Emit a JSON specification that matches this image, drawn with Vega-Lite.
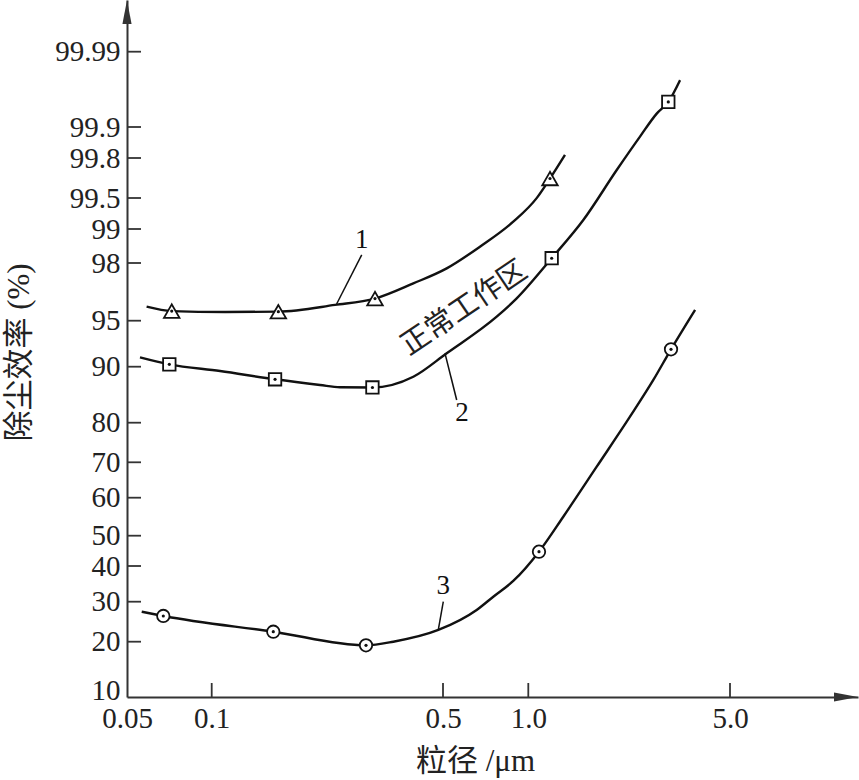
{
  "$schema": "https://vega.github.io/schema/vega-lite/v6.json",
  "width": 731,
  "height": 697,
  "autosize": {"type": "none"},
  "padding": {"left": 127, "top": 0, "right": 1, "bottom": 83},
  "background": "white",
  "config": {"view": {"stroke": null}, "font": "Liberation Serif"},
  "datasets": {
    "curves": [
      {"series": "1", "d": 0.0587, "eff": 95.73},
      {"series": "1", "d": 0.0721, "eff": 95.5},
      {"series": "1", "d": 0.1097, "eff": 95.45},
      {"series": "1", "d": 0.159, "eff": 95.47},
      {"series": "1", "d": 0.2358, "eff": 95.82},
      {"series": "1", "d": 0.3115, "eff": 96.15},
      {"series": "1", "d": 0.4067, "eff": 96.94},
      {"series": "1", "d": 0.5152, "eff": 97.72},
      {"series": "1", "d": 0.6753, "eff": 98.48},
      {"series": "1", "d": 0.885, "eff": 99.118},
      {"series": "1", "d": 1.069, "eff": 99.498},
      {"series": "1", "d": 1.189, "eff": 99.646},
      {"series": "1", "d": 1.34, "eff": 99.81},
      {"series": "2", "d": 0.0556, "eff": 91.02},
      {"series": "2", "d": 0.0707, "eff": 90.26},
      {"series": "2", "d": 0.106, "eff": 89.23},
      {"series": "2", "d": 0.1554, "eff": 87.75},
      {"series": "2", "d": 0.2125, "eff": 86.73},
      {"series": "2", "d": 0.2441, "eff": 86.32},
      {"series": "2", "d": 0.306, "eff": 86.29},
      {"series": "2", "d": 0.4067, "eff": 88.21},
      {"series": "2", "d": 0.5152, "eff": 91.46},
      {"series": "2", "d": 0.7736, "eff": 95.21},
      {"series": "2", "d": 0.9099, "eff": 96.16},
      {"series": "2", "d": 1.205, "eff": 98.14},
      {"series": "2", "d": 1.551, "eff": 99.145},
      {"series": "2", "d": 2.025, "eff": 99.71},
      {"series": "2", "d": 2.438, "eff": 99.869},
      {"series": "2", "d": 2.786, "eff": 99.916},
      {"series": "2", "d": 3.056, "eff": 99.93},
      {"series": "2", "d": 3.356, "eff": 99.956},
      {"series": "3", "d": 0.0564, "eff": 27.5},
      {"series": "3", "d": 0.0673, "eff": 26.43},
      {"series": "3", "d": 0.1535, "eff": 22.5},
      {"series": "3", "d": 0.2926, "eff": 19.25},
      {"series": "3", "d": 0.3538, "eff": 20.0},
      {"series": "3", "d": 0.484, "eff": 22.93},
      {"series": "3", "d": 0.6573, "eff": 27.93},
      {"series": "3", "d": 0.7524, "eff": 31.4},
      {"series": "3", "d": 0.885, "eff": 35.8},
      {"series": "3", "d": 1.089, "eff": 44.72},
      {"series": "3", "d": 1.322, "eff": 55.0},
      {"series": "3", "d": 1.726, "eff": 68.76},
      {"series": "3", "d": 2.251, "eff": 81.07},
      {"series": "3", "d": 2.712, "eff": 87.63},
      {"series": "3", "d": 3.123, "eff": 91.89},
      {"series": "3", "d": 3.782, "eff": 95.56}
    ],
    "markers": [
      {"series": "1", "d": 0.0721, "eff": 95.5},
      {"series": "1", "d": 0.159, "eff": 95.47},
      {"series": "1", "d": 0.3115, "eff": 96.15},
      {"series": "1", "d": 1.189, "eff": 99.646},
      {"series": "2", "d": 0.0707, "eff": 90.26},
      {"series": "2", "d": 0.1554, "eff": 87.75},
      {"series": "2", "d": 0.306, "eff": 86.29},
      {"series": "2", "d": 1.205, "eff": 98.14},
      {"series": "2", "d": 3.056, "eff": 99.93},
      {"series": "3", "d": 0.0673, "eff": 26.43},
      {"series": "3", "d": 0.1535, "eff": 22.5},
      {"series": "3", "d": 0.2926, "eff": 19.25},
      {"series": "3", "d": 1.089, "eff": 44.72},
      {"series": "3", "d": 3.123, "eff": 91.89}
    ],
    "leaders": [
      {"d": 0.284, "eff": 98.24, "d2": 0.2385, "eff2": 95.87},
      {"d": 0.5081, "eff": 91.46, "d2": 0.5589, "eff2": 84.05},
      {"d": 0.5012, "eff": 30, "d2": 0.484, "eff2": 23.0}
    ],
    "labels": [
      {"t": "1", "d": 0.284, "eff": 98.68},
      {"t": "2", "d": 0.5834, "eff": 81.73},
      {"t": "3", "d": 0.501, "eff": 34.4}
    ],
    "notes": [
      {"t": "正常工作区", "d": 0.593, "eff": 95.66}
    ],
    "yticks": [
      {"d": 0.05, "eff": 20}, {"d": 0.05, "eff": 30}, {"d": 0.05, "eff": 40}, {"d": 0.05, "eff": 50},
      {"d": 0.05, "eff": 60}, {"d": 0.05, "eff": 70}, {"d": 0.05, "eff": 80}, {"d": 0.05, "eff": 90},
      {"d": 0.05, "eff": 95}, {"d": 0.05, "eff": 98}, {"d": 0.05, "eff": 99}, {"d": 0.05, "eff": 99.5},
      {"d": 0.05, "eff": 99.8}, {"d": 0.05, "eff": 99.9}, {"d": 0.05, "eff": 99.99}
    ],
    "xticks": [
      {"d": 0.1, "eff": 9}, {"d": 0.5, "eff": 9}, {"d": 1, "eff": 9}, {"d": 5, "eff": 9}
    ],
    "yarrow": [{"d": 0.05, "eff": 99.999}],
    "xarrow": [{"d": 14, "eff": 9}]
  },
  "encoding": {
    "x": {
      "field": "d",
      "type": "quantitative",
      "scale": {"type": "log", "domain": [0.05, 0.1, 0.5, 1, 5, 14], "range": [0, 84.7, 316, 401.3, 603, 731], "nice": false, "zero": false},
      "axis": {
        "values": [0.05, 0.1, 0.5, 1, 5],
        "labelExpr": "datum.value >= 1 ? format(datum.value, '.1f') : toString(datum.value)",
        "ticks": false,
        "tickSize": 0,
        "domainColor": "#333",
        "domainWidth": 2,
        "labelFont": "Liberation Serif",
        "labelFontSize": 29,
        "labelColor": "#222",
        "labelPadding": 7,
        "labelFlush": false,
        "labelOverlap": false,
        "grid": false,
        "title": "粒径 /μm",
        "titleFont": "Liberation Serif, Noto Sans CJK SC",
        "titleFontSize": 31,
        "titleFontWeight": "normal",
        "titleColor": "#222",
        "titleX": 348,
        "titleY": 64,
        "titleBaseline": "middle",
        "titleAlign": "center"
      }
    },
    "y": {
      "field": "eff",
      "type": "quantitative",
      "scale": {"type": "linear", "domain": [9, 10, 20, 30, 40, 50, 60, 70, 80, 90, 95, 98, 99, 99.5, 99.8, 99.9, 99.99, 99.999], "range": [697, 690, 641.7, 601.7, 566, 535.7, 497.7, 462.3, 422.7, 366.7, 320.7, 263, 229, 198, 158, 127, 51.7, 0], "nice": false, "zero": false},
      "axis": {
        "values": [10, 20, 30, 40, 50, 60, 70, 80, 90, 95, 98, 99, 99.5, 99.8, 99.9, 99.99],
        "labelExpr": "toString(datum.value)",
        "ticks": false,
        "tickSize": 0,
        "domainColor": "#333",
        "domainWidth": 2,
        "labelFont": "Liberation Serif",
        "labelFontSize": 29,
        "labelColor": "#222",
        "labelPadding": 7,
        "labelFlush": false,
        "labelOverlap": false,
        "grid": false,
        "title": "除尘效率 (%)",
        "titleFont": "Liberation Serif, Noto Sans CJK SC",
        "titleFontSize": 31,
        "titleFontWeight": "normal",
        "titleColor": "#222",
        "titleX": -108,
        "titleY": 352,
        "titleBaseline": "middle",
        "titleAlign": "center",
        "titleAngle": -90
      }
    }
  },
  "layer": [
    {
      "data": {"name": "yticks"},
      "mark": {"type": "tick", "orient": "horizontal", "size": 14, "thickness": 1.8, "xOffset": 7, "color": "#333", "opacity": 1}
    },
    {
      "data": {"name": "xticks"},
      "mark": {"type": "tick", "orient": "vertical", "size": 14, "thickness": 1.8, "yOffset": -7, "color": "#333", "opacity": 1}
    },
    {
      "data": {"name": "curves"},
      "mark": {"type": "line", "interpolate": "monotone", "color": "#111", "strokeWidth": 2.4},
      "encoding": {"detail": {"field": "series", "type": "nominal"}}
    },
    {
      "data": {"name": "leaders"},
      "mark": {"type": "rule", "color": "#111", "strokeWidth": 1.5},
      "encoding": {"x2": {"field": "d2"}, "y2": {"field": "eff2"}}
    },
    {
      "data": {"name": "markers"},
      "transform": [{"filter": "datum.series === '1'"}],
      "mark": {"type": "point", "shape": "triangle-up", "size": 240, "filled": true, "fill": "white", "stroke": "#111", "strokeWidth": 1.8, "opacity": 1}
    },
    {
      "data": {"name": "markers"},
      "transform": [{"filter": "datum.series === '2'"}],
      "mark": {"type": "point", "shape": "square", "size": 155, "filled": true, "fill": "white", "stroke": "#111", "strokeWidth": 1.8, "opacity": 1}
    },
    {
      "data": {"name": "markers"},
      "transform": [{"filter": "datum.series === '3'"}],
      "mark": {"type": "point", "shape": "circle", "size": 155, "filled": true, "fill": "white", "stroke": "#111", "strokeWidth": 1.8, "opacity": 1}
    },
    {
      "data": {"name": "markers"},
      "mark": {"type": "point", "shape": "circle", "size": 10, "filled": true, "color": "#111", "opacity": 1}
    },
    {
      "data": {"name": "labels"},
      "mark": {"type": "text", "font": "Liberation Serif", "fontSize": 27, "color": "#111", "align": "center", "baseline": "middle"},
      "encoding": {"text": {"field": "t"}}
    },
    {
      "data": {"name": "notes"},
      "mark": {"type": "text", "font": "Noto Sans CJK SC", "fontSize": 29, "color": "#222", "align": "center", "baseline": "middle", "angle": -34},
      "encoding": {"text": {"field": "t"}}
    },
    {
      "data": {"name": "yarrow"},
      "mark": {"type": "point", "shape": "M0,0L-0.38,2L0.38,2Z", "size": 576, "filled": true, "color": "#333", "opacity": 1}
    },
    {
      "data": {"name": "xarrow"},
      "mark": {"type": "point", "shape": "M0,0L-2,-0.38L-2,0.38Z", "size": 576, "filled": true, "color": "#333", "opacity": 1}
    }
  ]
}
